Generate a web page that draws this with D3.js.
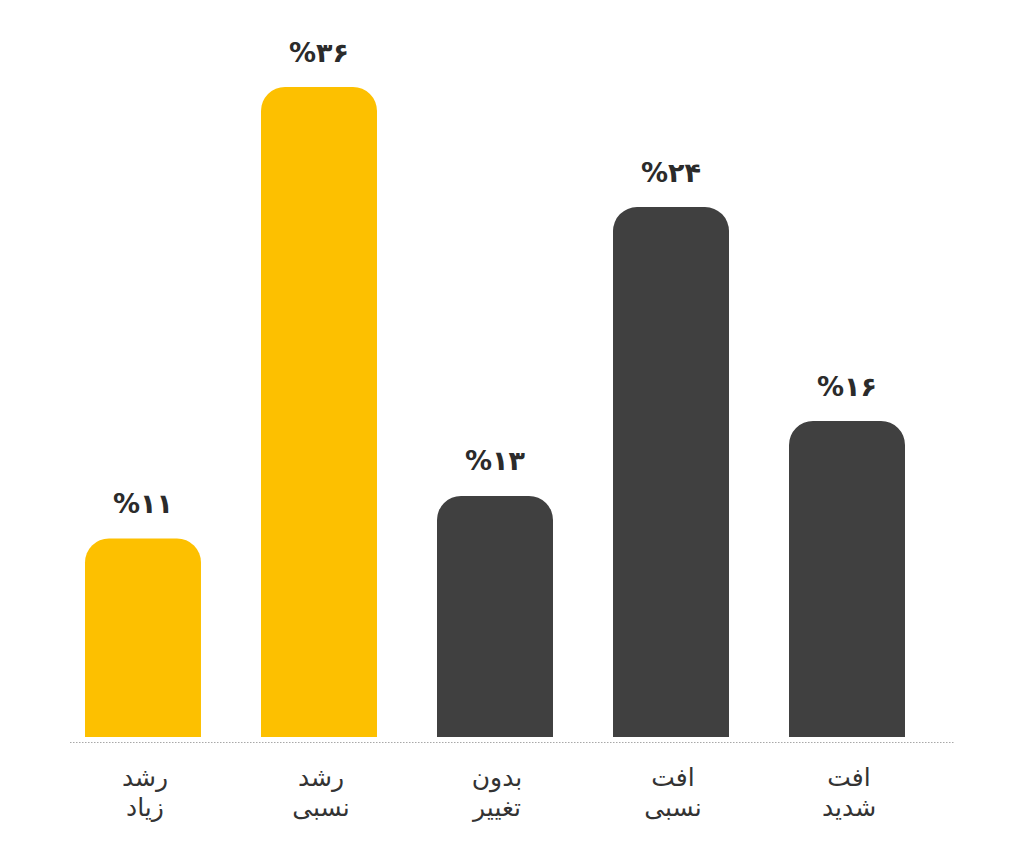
<!DOCTYPE html>
<html>
<head>
<meta charset="utf-8">
<script src="https://cdn.jsdelivr.net/npm/d3@7"></script>
<style>
  html, body { margin: 0; padding: 0; background: #fff; }
  svg { display: block; }
</style>
</head>
<body>
<div id="chart"></div>
<script>
// categories, two lines each (top line first)
var catTop = ["رشد", "رشد", "بدون", "افت", "افت"];
var catBottom = ["زیاد", "نسبی", "تغییر", "نسبی", "شدید"];

// printed labels above the bars
var pctLabels = ["%۱۱", "%۳۶", "%۱۳", "%۲۴", "%۱۶"];

// bar heights as drawn in the picture (same % units)
var barValues = [11, 36, 13.35, 29.35, 17.5];

var barColors = ["#fdc000", "#fdc000", "#404040", "#404040", "#404040"];

var width = 1024, height = 853;
var baseY = 737, lineY = 742.5;

var svg = d3.select("#chart").append("svg")
  .attr("width", width)
  .attr("height", height);

var x = d3.scaleBand()
  .domain(d3.range(barValues.length))
  .range([85, 905])
  .paddingInner(0.341)
  .paddingOuter(0);

var y = d3.scaleLinear()
  .domain([0, 36])
  .range([baseY, 87]);

// bar with rounded top corners only
function barPath(x0, y0, w, h, r) {
  r = Math.min(r, h, w / 2);
  return "M" + x0 + "," + (y0 + h) +
    "V" + (y0 + r) +
    "A" + r + "," + r + " 0 0 1 " + (x0 + r) + "," + y0 +
    "H" + (x0 + w - r) +
    "A" + r + "," + r + " 0 0 1 " + (x0 + w) + "," + (y0 + r) +
    "V" + (y0 + h) + "Z";
}

svg.append("line")
  .attr("x1", 70).attr("x2", 955)
  .attr("y1", lineY).attr("y2", lineY)
  .attr("stroke", "#a8a8a8")
  .attr("stroke-width", 1)
  .attr("stroke-dasharray", "1.5,1.5");

svg.selectAll("path.bar")
  .data(barValues)
  .enter().append("path")
  .attr("class", "bar")
  .attr("d", function(d, i) {
    return barPath(x(i), y(d), x.bandwidth(), baseY - y(d), 24);
  })
  .attr("fill", function(d, i) { return barColors[i]; });

svg.selectAll("text.pct")
  .data(barValues)
  .enter().append("text")
  .attr("class", "pct")
  .attr("x", function(d, i) { return x(i) + x.bandwidth() / 2; })
  .attr("y", function(d) { return y(d) - 35; })
  .attr("text-anchor", "middle")
  .attr("dominant-baseline", "central")
  .attr("font-family", "DejaVu Sans")
  .attr("font-weight", "bold")
  .attr("font-size", "27px")
  .attr("fill", "#2b2b2b")
  .text(function(d, i) { return pctLabels[i]; });

var cats = svg.selectAll("g.cat")
  .data(catTop)
  .enter().append("g")
  .attr("class", "cat")
  .attr("transform", function(d, i) {
    return "translate(" + (x(i) + x.bandwidth() / 2 + 2) + ",0)";
  });

cats.append("text")
  .attr("y", 777)
  .text(function(d) { return d; });

cats.append("text")
  .attr("y", 807)
  .text(function(d, i) { return catBottom[i]; });

cats.selectAll("text")
  .attr("text-anchor", "middle")
  .attr("dominant-baseline", "central")
  .attr("font-family", "DejaVu Sans")
  .attr("font-size", "25px")
  .attr("fill", "#333");
</script>
</body>
</html>
